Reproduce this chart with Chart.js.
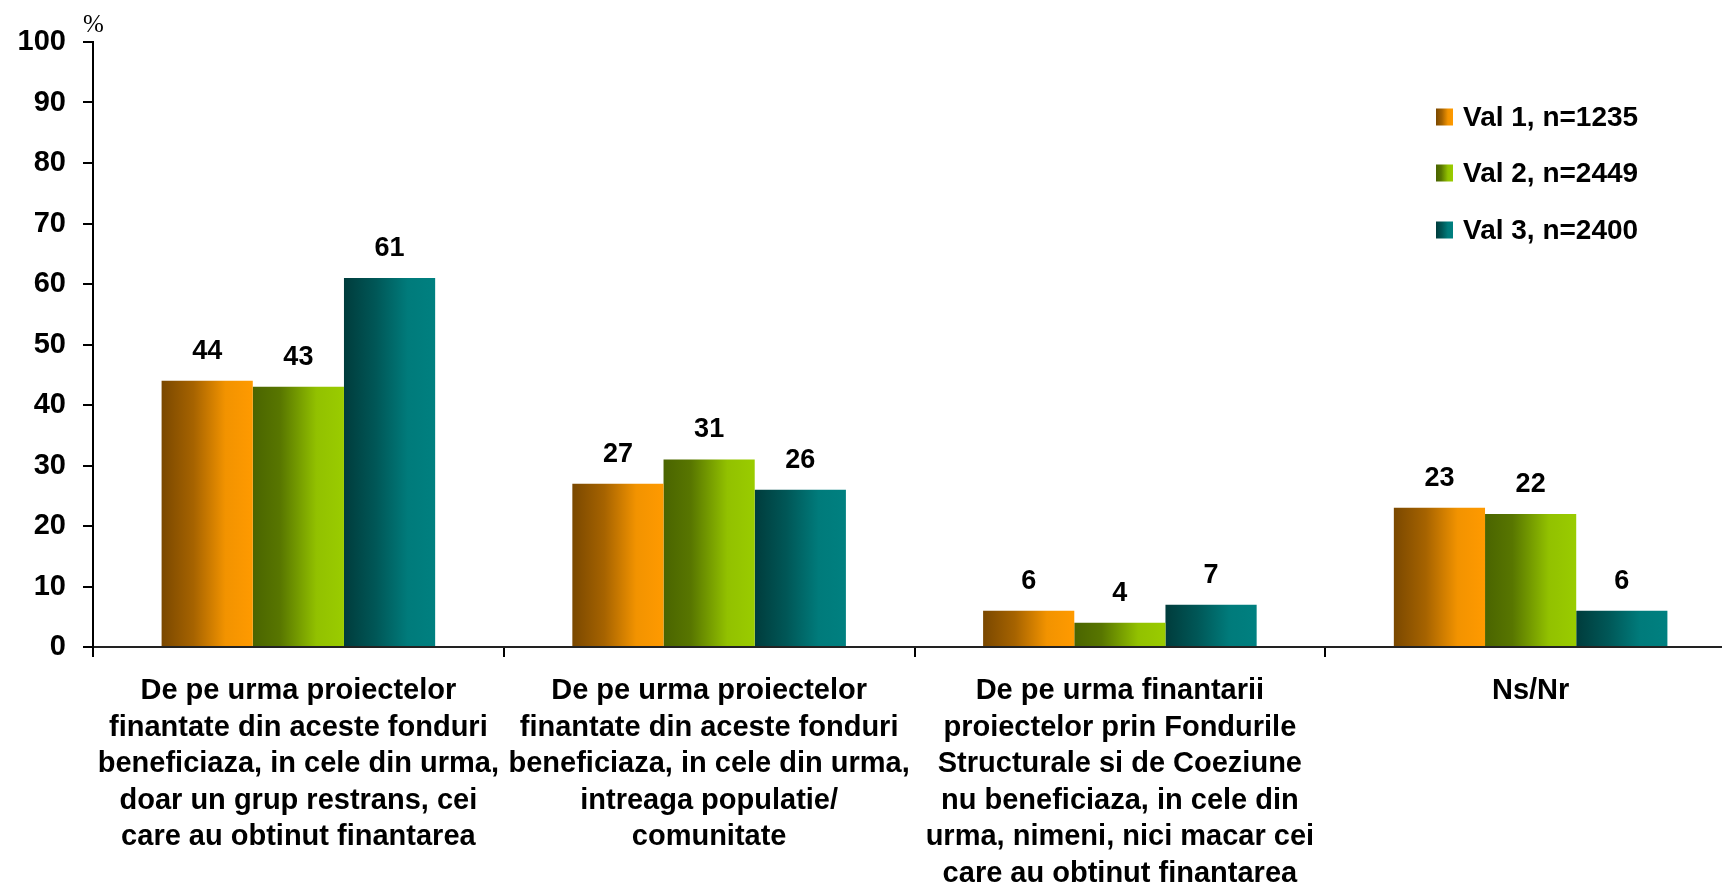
<!DOCTYPE html>
<html>
<head>
<meta charset="utf-8">
<script src="https://cdn.jsdelivr.net/npm/chart.js@4.4.1/dist/chart.umd.min.js"></script>
<style>
html,body{margin:0;padding:0;background:#fff;overflow:hidden;}
#wrap{position:absolute;left:0;top:0;width:1736px;height:886px;}
</style>
</head>
<body>
<div id="wrap"><canvas id="c"></canvas></div>
<script>
const categories = [
  ["De pe urma proiectelor","finantate din aceste fonduri","beneficiaza, in cele din urma,","doar un grup restrans, cei","care au obtinut finantarea"],
  ["De pe urma proiectelor","finantate din aceste fonduri","beneficiaza, in cele din urma,","intreaga populatie/","comunitate"],
  ["De pe urma finantarii","proiectelor prin Fondurile","Structurale si de Coeziune","nu beneficiaza, in cele din","urma, nimeni, nici macar cei","care au obtinut finantarea"],
  ["Ns/Nr"]
];
const seriesNames = ["Val 1, n=1235","Val 2, n=2449","Val 3, n=2400"];
const val1 = [44, 27, 6, 23];
const val2 = [43, 31, 4, 22];
const val3 = [61, 26, 7, 6];
const yTicks = [0,10,20,30,40,50,60,70,80,90,100];

const gradStops = [
  [[0,'#7a4800'],[0.35,'#a66300'],[0.7,'#f29300'],[1,'#ff9a00']],
  [[0,'#4a6400'],[0.3,'#587600'],[0.7,'#92c100'],[1,'#9acc00']],
  [[0,'#003c3c'],[0.35,'#005757'],[0.7,'#007b7b'],[1,'#008080']]
];
const CAT_PCT = 0.666;

function barGradient(ctx){
  const chart = ctx.chart;
  const xs = chart.scales && chart.scales.x;
  const di = ctx.datasetIndex;
  const stops = gradStops[di] || gradStops[0];
  if(!xs || ctx.dataIndex === undefined || !isFinite(xs.width) || xs.width <= 0){ return stops[stops.length-1][1]; }
  const catW = xs.width / categories.length;
  const groupW = catW * CAT_PCT;
  const barW = groupW / 3;
  const center = xs.getPixelForValue(ctx.dataIndex);
  const left = center - groupW/2 + di*barW;
  if(!isFinite(left) || !isFinite(barW)){ return stops[stops.length-1][1]; }
  const g = chart.ctx.createLinearGradient(left,0,left+barW,0);
  stops.forEach(s=>g.addColorStop(s[0],s[1]));
  return g;
}

const valueLabels = {
  id:'valueLabels',
  afterDatasetsDraw(chart){
    const c = chart.ctx;
    c.save();
    c.font = 'bold 27px "Liberation Sans", Arial, sans-serif';
    c.fillStyle = '#000';
    c.textAlign = 'center';
    c.textBaseline = 'alphabetic';
    chart.data.datasets.forEach((ds,i)=>{
      chart.getDatasetMeta(i).data.forEach((bar,j)=>{
        c.fillText(String(ds.data[j]), bar.x, bar.y - 22);
      });
    });
    c.restore();
  }
};

const extras = {
  id:'extras',
  afterDraw(chart){
    const c = chart.ctx;
    c.save();
    c.font = '25px "Liberation Serif", "Times New Roman", serif';
    c.fillStyle = '#000';
    c.textAlign = 'left';
    c.textBaseline = 'alphabetic';
    c.fillText('%', 83, 32);
    const ys = [117, 173, 230];
    chart.data.datasets.forEach((ds,i)=>{
      const x = 1436, s = 17, y = ys[i];
      const g = c.createLinearGradient(x,0,x+s,0);
      gradStops[i].forEach(st=>g.addColorStop(st[0],st[1]));
      c.fillStyle = g;
      c.fillRect(x, y - s/2, s, s);
      c.fillStyle = '#000';
      c.font = 'bold 28px "Liberation Sans", Arial, sans-serif';
      c.textBaseline = 'middle';
      c.fillText(ds.label, 1463, y + 1);
    });
    c.restore();
  }
};

new Chart(document.getElementById('c'), {
  type:'bar',
  data:{
    labels: categories,
    datasets:[
      {label:seriesNames[0], data:val1, backgroundColor:barGradient},
      {label:seriesNames[1], data:val2, backgroundColor:barGradient},
      {label:seriesNames[2], data:val3, backgroundColor:barGradient}
    ]
  },
  options:{
    responsive:true,
    maintainAspectRatio:false,
    devicePixelRatio:1,
    animation:false,
    layout:{padding:{top:42,right:0,left:0,bottom:0}},
    datasets:{bar:{categoryPercentage:CAT_PCT, barPercentage:1.0, borderWidth:0}},
    plugins:{legend:{display:false}, tooltip:{enabled:false}},
    scales:{
      x:{
        afterFit(s){ s.height = 239; },
        grid:{offset:true, drawOnChartArea:false, drawTicks:true, tickLength:10, color:'#000', lineWidth:2},
        border:{display:true, color:'#222', width:2},
        ticks:{
          color:'#000',
          maxRotation:0, minRotation:0, autoSkip:false,
          padding:16,
          font:{family:'"Liberation Sans", Arial, sans-serif', size:29, weight:'bold', lineHeight:1.26}
        }
      },
      y:{
        min:0, max:100,
        afterFit(s){ s.width = 93; },
        afterBuildTicks(s){ s.ticks = yTicks.map(v=>({value:v})); },
        grid:{drawOnChartArea:false, drawTicks:true, tickLength:10, color:'#000', lineWidth:2},
        border:{display:true, color:'#000', width:2},
        ticks:{
          color:'#000', padding:17,
          font:{family:'"Liberation Sans", Arial, sans-serif', size:29, weight:'bold'}
        }
      }
    }
  },
  plugins:[valueLabels, extras]
});
</script>
</body>
</html>
